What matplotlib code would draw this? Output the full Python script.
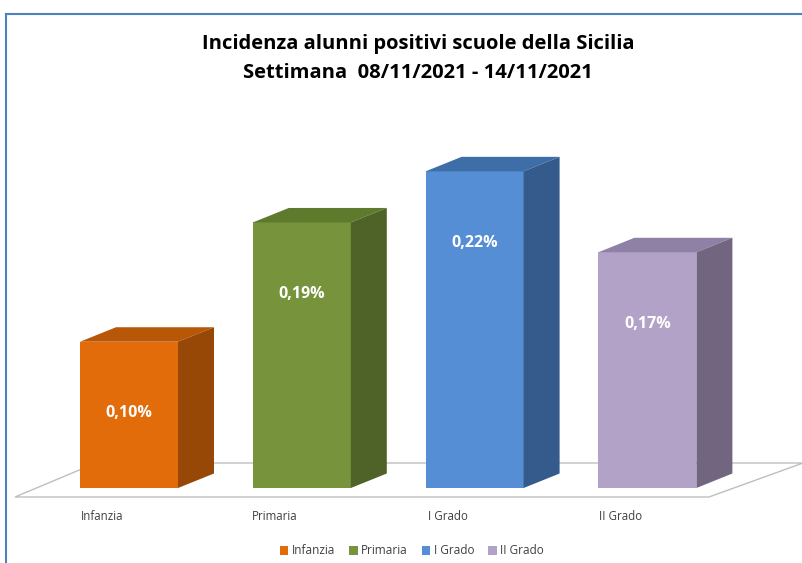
#!/usr/bin/env python3
"""
Pseudo-3D column chart: incidence of positive pupils, Sicily schools.
"""
import matplotlib
matplotlib.use("Agg")
import matplotlib.pyplot as plt
from matplotlib.patches import Polygon
from matplotlib.lines import Line2D

# --- Data ---
categories = ["Infanzia", "Primaria", "I Grado", "II Grado"]
values = [0.103, 0.187, 0.223, 0.166]   # %
title_lines = ["Incidenza alunni positivi scuole della Sicilia",
               "Settimana  08/11/2021 - 14/11/2021"]

front_colors = ["#e36c0a", "#77933c", "#558ed5", "#b3a2c7"]
side_colors = ["#974706", "#4f6228", "#345b8c", "#716580"]
top_colors = ["#b85708", "#5e7a2c", "#3e6ea8", "#8f80a6"]

FONT = ["Open Sans", "DejaVu Sans"]

# geometry (data units: x = category slot, y = percent)
W, H, DPI = 803, 563, 100
PX_X = 172.8           # pixels per category slot
PX_Y = 1420.0          # pixels per 1 %
BAR_W = 98 / PX_X
DX = 36 / PX_X
DY = 14.5 / PX_Y


def px2x(px):
    return (px - 129) / PX_X


def px2y(py):
    return (488 - py) / PX_Y


def draw_floor(ax):
    pts = [(px2x(15), px2y(497)), (px2x(709), px2y(497)),
           (px2x(803), px2y(463)), (px2x(96), px2y(463))]
    ax.add_patch(Polygon(pts, closed=True, facecolor="white",
                         edgecolor="#bfbfbf", lw=1.0, zorder=1))


def draw_bars(ax):
    for i, (cat, v) in enumerate(zip(categories, values)):
        left, right = i - BAR_W / 2, i + BAR_W / 2
        ax.bar(i, v, width=BAR_W, color=front_colors[i], label=cat,
               zorder=3, linewidth=0)
        top = [(left, v), (right, v), (right + DX, v + DY), (left + DX, v + DY)]
        side = [(right, 0), (right + DX, DY), (right + DX, v + DY), (right, v)]
        ax.add_patch(Polygon(top, closed=True, facecolor=top_colors[i],
                             lw=0, zorder=3))
        ax.add_patch(Polygon(side, closed=True, facecolor=side_colors[i],
                             lw=0, zorder=3))
        ax.text(i, v - 0.0505, f"{v:.2f}%".replace(".", ","), color="white",
                ha="center", va="center", fontsize=11.5, fontweight="bold",
                family=FONT, zorder=4)
        ax.text(i - 27 / PX_X, px2y(516), cat, color="#404040", ha="center",
                va="center", fontsize=8.3, family=FONT)


def main():
    fig = plt.figure(figsize=(W / DPI, H / DPI), dpi=DPI)
    ax = fig.add_axes([0, 0, 1, 1])
    ax.set_xlim(px2x(0), px2x(W))
    ax.set_ylim(px2y(H), px2y(0))
    ax.axis("off")

    draw_floor(ax)
    draw_bars(ax)

    # chart border (top and left visible in the crop)
    fig.add_artist(Line2D([6 / W, 1], [1 - 14 / H, 1 - 14 / H],
                          color="#4f81bd", lw=1.5))
    fig.add_artist(Line2D([6 / W, 6 / W], [0, 1 - 14 / H],
                          color="#4f81bd", lw=1.5))

    for k, line in enumerate(title_lines):
        fig.text(418 / W, 1 - (44 + 29 * k) / H, line, ha="center",
                 va="center", fontsize=14.5, fontweight="bold",
                 family=FONT, color="black")

    leg = ax.legend(loc="center", bbox_to_anchor=(412 / W, 1 - 551 / H),
                    bbox_transform=fig.transFigure, ncol=4, frameon=False,
                    handlelength=0.7, handleheight=0.7, handletextpad=0.3,
                    columnspacing=1.2, prop={"family": FONT, "size": 8.5})
    for t in leg.get_texts():
        t.set_color("#404040")

    fig.savefig("out.png", dpi=DPI, facecolor="white")


if __name__ == "__main__":
    main()
